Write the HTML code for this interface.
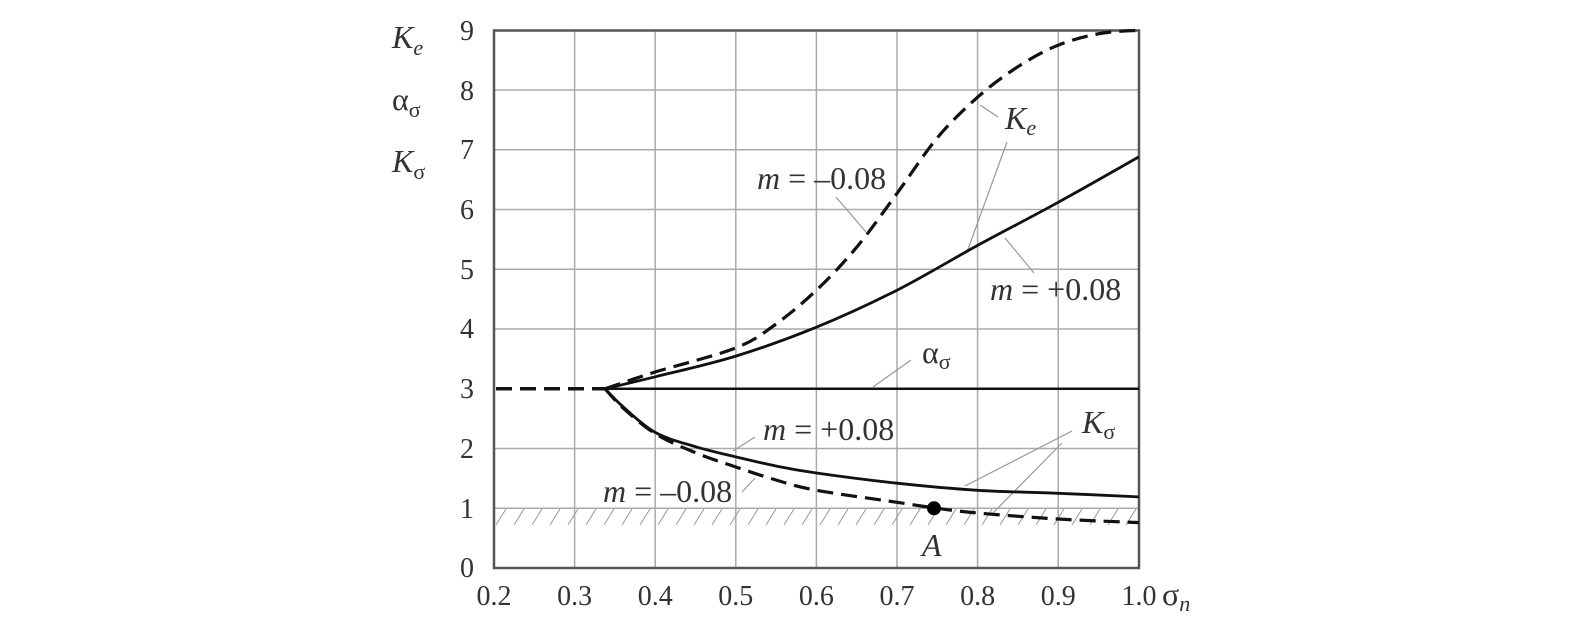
<!DOCTYPE html>
<html><head><meta charset="utf-8"><style>
html,body{margin:0;padding:0;background:#fff}
svg{display:block}
text{font-family:"Liberation Serif",serif;fill:#333}
</style></head><body>
<svg width="1594" height="635" viewBox="0 0 1594 635" xmlns="http://www.w3.org/2000/svg">
<g stroke="#aaa" stroke-width="1.5">
<line x1="494" x2="1139" y1="90.0" y2="90.0"/>
<line x1="494" x2="1139" y1="149.8" y2="149.8"/>
<line x1="494" x2="1139" y1="209.5" y2="209.5"/>
<line x1="494" x2="1139" y1="269.3" y2="269.3"/>
<line x1="494" x2="1139" y1="329.0" y2="329.0"/>
<line x1="494" x2="1139" y1="448.5" y2="448.5"/>
<line x1="494" x2="1139" y1="508.3" y2="508.3"/>
<line y1="30" y2="568" x1="574.6" x2="574.6"/>
<line y1="30" y2="568" x1="655.2" x2="655.2"/>
<line y1="30" y2="568" x1="735.8" x2="735.8"/>
<line y1="30" y2="568" x1="816.4" x2="816.4"/>
<line y1="30" y2="568" x1="897" x2="897"/>
<line y1="30" y2="568" x1="977.6" x2="977.6"/>
<line y1="30" y2="568" x1="1058.2" x2="1058.2"/>
</g>
<g stroke="#999" stroke-width="1">
<path d="M496,525L506,509M514,525L524,509M532,525L542,509M550,525L560,509M568,525L578,509M586,525L596,509M604,525L614,509M622,525L632,509M640,525L650,509M658,525L668,509M676,525L686,509M694,525L704,509M712,525L722,509M730,525L740,509M748,525L758,509M766,525L776,509M784,525L794,509M802,525L812,509M820,525L830,509M838,525L848,509M856,525L866,509M874,525L884,509M892,525L902,509M910,525L920,509M928,525L938,509M946,525L956,509M964,525L974,509M982,525L992,509M1000,525L1010,509M1018,525L1028,509M1036,525L1046,509M1054,525L1064,509M1072,525L1082,509M1090,525L1100,509M1108,525L1118,509M1126,525L1136,509"/>
</g>
<rect x="494" y="30.5" width="645" height="537.5" fill="none" stroke="#555" stroke-width="2.5"/>
<g stroke="#999" stroke-width="1.2" fill="none">
<path d="M836,197L866,232"/>
<path d="M998,117L980,105"/>
<path d="M1007,142L967,252"/>
<path d="M1034,273L1005,238"/>
<path d="M911,360L873,387"/>
<path d="M755,437L733,451"/>
<path d="M742,492L755,478"/>
<path d="M1072,431L965,486"/>
<path d="M1062,443L993,513"/>
</g>
<g fill="none" stroke="#111" stroke-linejoin="round" stroke-linecap="butt">
<line x1="605" y1="388.75" x2="1139" y2="388.75" stroke-width="2.5"/>
<line x1="496" y1="388.75" x2="605" y2="388.75" stroke-width="3.5" stroke-dasharray="16 8"/>
<path class="sm" stroke-width="2.8" d="M605,388.75 L655.2,376.8 L735.8,356.1 L816.4,327.2 L897,290.2 L977.6,245.4 L1058.2,202.3 L1138.8,156.9"/>
<path class="sm" stroke-width="3.2" stroke-dasharray="16 8" d="M605,388.75 L655.2,372 L735.8,347.9 L776,324 L816.4,290.2 L856.7,247.2 L897,193.4 L937.3,137.8 L977.6,97.2 L1017.9,66.7 L1058.2,45.2 L1100,33.5 L1138.8,30.3"/>
<path class="sm" stroke-width="2.8" d="M605,388.75 L623,406.7 L655.2,432.4 L695.5,446.7 L735.8,456.9 L776,466 L816.4,473 L897,483.2 L977.6,490.3 L1058.2,493.3 L1138.8,496.9"/>
<path class="sm" stroke-width="3.2" stroke-dasharray="16 8" d="M605,388.75 L623,407.9 L655.2,433.6 L695.5,452.7 L735.8,467 L776,480 L816.4,490.3 L897,502.3 L937.3,508.3 L977.6,513 L1058.2,519 L1138.8,522.6"/>
</g>
<circle cx="934" cy="508.3" r="7" fill="#000"/>
<g font-size="28" text-anchor="end">
<text x="474" y="40">9</text>
<text x="474" y="100">8</text>
<text x="474" y="159">7</text>
<text x="474" y="219">6</text>
<text x="474" y="279">5</text>
<text x="474" y="338">4</text>
<text x="474" y="398">3</text>
<text x="474" y="458">2</text>
<text x="474" y="518">1</text>
<text x="474" y="577">0</text>
</g>
<g font-size="28" text-anchor="middle">
<text x="494" y="605">0.2</text>
<text x="574.6" y="605">0.3</text>
<text x="655.2" y="605">0.4</text>
<text x="735.8" y="605">0.5</text>
<text x="816.4" y="605">0.6</text>
<text x="897" y="605">0.7</text>
<text x="977.6" y="605">0.8</text>
<text x="1058.2" y="605">0.9</text>
<text x="1139" y="605">1.0</text>
</g>
<text x="1162" y="605" font-size="32">σ<tspan font-size="22" font-style="italic" dy="6">n</tspan></text>
<text x="392" y="48" font-size="32"><tspan font-style="italic">K</tspan><tspan font-size="22" font-style="italic" dy="7">e</tspan></text>
<text x="392" y="110" font-size="32">α<tspan font-size="22" dy="7">σ</tspan></text>
<text x="392" y="172" font-size="32"><tspan font-style="italic">K</tspan><tspan font-size="22" dy="7">σ</tspan></text>
<g font-size="32">
<text x="757" y="189"><tspan font-style="italic">m</tspan> = –0.08</text>
<text x="1005" y="129"><tspan font-style="italic">K</tspan><tspan font-size="22" font-style="italic" dy="6">e</tspan></text>
<text x="990" y="300"><tspan font-style="italic">m</tspan> = +0.08</text>
<text x="922" y="363">α<tspan font-size="22" dy="6">σ</tspan></text>
<text x="763" y="440"><tspan font-style="italic">m</tspan> = +0.08</text>
<text x="1082" y="433"><tspan font-style="italic">K</tspan><tspan font-size="22" dy="6">σ</tspan></text>
<text x="603" y="502"><tspan font-style="italic">m</tspan> = –0.08</text>
<text x="922" y="556" font-style="italic">A</text>
</g>
</svg>
<script>
document.querySelectorAll('path.sm').forEach(function(p){
  var pts=p.getAttribute('d').replace(/[ML]/g,' ').trim().split(/\s+/).map(function(s){return s.split(',').map(Number);});
  var d='M'+pts[0][0]+','+pts[0][1];
  for(var i=0;i<pts.length-1;i++){
    var p0=pts[i-1]||pts[i],p1=pts[i],p2=pts[i+1],p3=pts[i+2]||p2;
    var c1=[p1[0]+(p2[0]-p0[0])/6,p1[1]+(p2[1]-p0[1])/6];
    var c2=[p2[0]-(p3[0]-p1[0])/6,p2[1]-(p3[1]-p1[1])/6];
    d+=' C'+c1[0].toFixed(1)+','+c1[1].toFixed(1)+' '+c2[0].toFixed(1)+','+c2[1].toFixed(1)+' '+p2[0]+','+p2[1];
  }
  p.setAttribute('d',d);
});
</script>
</body></html>
